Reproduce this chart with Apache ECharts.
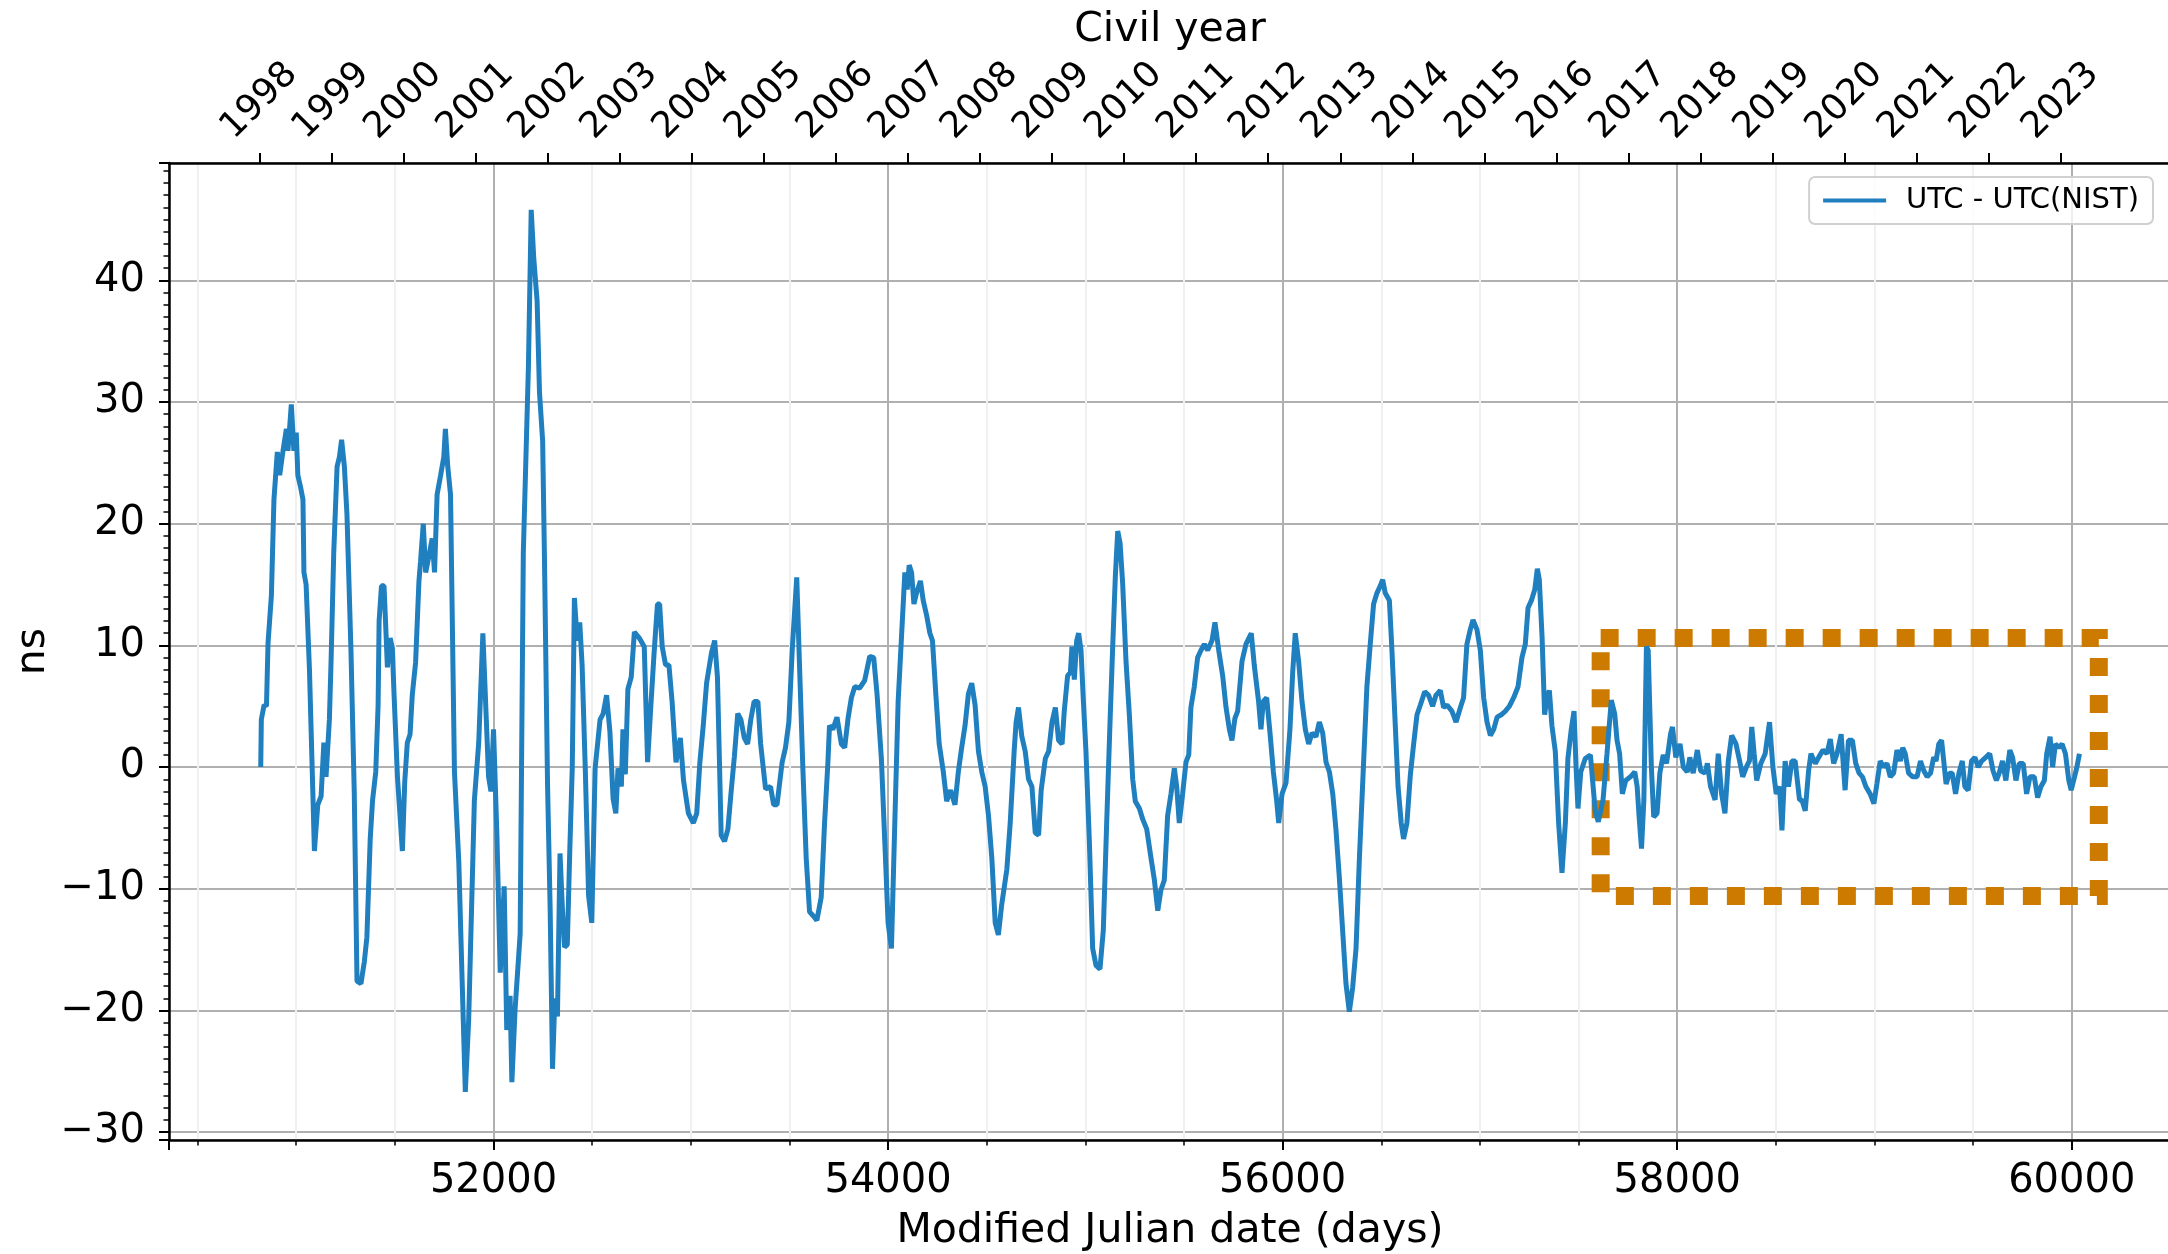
<!DOCTYPE html>
<html>
<head>
<meta charset="utf-8">
<title>UTC - UTC(NIST)</title>
<script src="https://cdn.jsdelivr.net/npm/echarts@6/dist/echarts.min.js"></script>
<style>
  html, body { margin: 0; padding: 0; background: #fff; }
  #chart { width: 2168px; height: 1254px; }
</style>
</head>
<body>
<div id="chart"></div>
<script>
// MJD (days) of each reading
var mjd = [
  50820,50823,50837,50849,50857,50874,50887,50904,50916,50933,50950,50958,50975,50988,51000,51008,51022,51034,51039,51050,
  51067,51084,51092,51109,51126,51140,51151,51168,51177,51190,51207,51219,51230,51244,51257,51277,51294,51308,51328,51345,
  51358,51375,51387,51403,51415,51420,51432,51445,51454,51462,51476,51487,51496,51513,51538,51550,51563,51577,51588,51605,
  51622,51630,51644,51656,51672,51689,51701,51714,51731,51748,51756,51768,51782,51802,51824,51841,51857,51874,51903,51925,
  51946,51975,51987,52000,52017,52034,52054,52067,52084,52093,52109,52135,52151,52177,
  52191,52204,52221,52233,52249,52258,52274,52287,52299,52311,52324,52337,52349,52360,52374,52387,52399,52410,52424,52437,
  52449,52465,52482,52498,52515,52540,52556,52573,52590,52606,52620,52631,52648,52656,52668,52681,52698,52714,52739,52764,
  52781,52797,52814,52831,52842,52855,52872,52889,52905,52925,52947,52963,52988,53013,53030,53046,53063,53080,53105,53121,
  53135,53154,53171,53188,53204,53221,53238,53254,53271,53288,53304,53321,53340,53354,53379,53404,53420,53437,
  53463,53480,53497,53514,53537,53551,53568,53585,53602,53619,53639,53661,53678,53695,53703,53720,53741,53763,53780,53797,
  53814,53831,53856,53881,53907,53927,53944,53966,53983,54000,54017,54034,54051,54068,54085,54097,54107,54119,54131,54144,
  54164,54178,54195,54212,54225,54242,54259,54280,54297,54317,54339,54356,54373,54390,54407,54424,54441,54458,54475,54492,
  54509,54526,54543,54559,54576,54602,54619,54639,54649,54661,54678,54695,54712,54729,54746,54763,54776,54797,54814,54831,
  54848,54864,54882,54893,54910,54924,
  54932,54944,54956,54966,54978,54990,55003,55020,55037,55054,55074,55091,55108,55125,55139,55152,55164,55176,55189,55206,
  55223,55240,55253,55274,55291,55311,55333,55350,55367,55383,55400,55417,55434,55451,55463,55476,55493,55510,55524,55535,
  55552,55569,55586,55603,55620,55642,55657,55676,55696,55713,55730,55743,55758,55772,55794,55814,55841,55856,55878,55890,
  55902,55919,55936,55953,55970,55980,55997,56017,56037,56051,56064,56081,56098,56115,56132,56149,56169,56186,56203,56220,
  56237,56254,56270,56287,56304,56321,56338,56355,56372,56389,56405,
  56427,56444,56461,56478,56495,56507,56520,56541,56554,56571,56585,56601,56613,56630,56647,56664,56681,56698,56720,56740,
  56760,56777,56799,56816,56833,56858,56879,56901,56917,56934,56951,56965,56985,57002,57019,57036,57053,57070,57087,57108,
  57129,57149,57171,57193,57213,57230,57244,57261,57278,57291,57301,57315,57328,57340,57352,57365,57382,57399,57416,57433,
  57446,57463,57477,57487,57497,57511,57534,57560,57585,57600,
  57607,57624,57644,57666,57683,57695,57708,57722,57739,57763,57785,57797,57807,57819,57831,57844,57853,57869,57881,57898,
  57912,57929,57946,57966,57976,57993,58014,58031,58051,58064,58081,58102,58119,58141,58153,58169,58192,58208,58225,58242,
  58259,58276,58298,58319,58332,58353,58366,58378,58390,58403,58424,58446,58468,58485,58502,58519,58531,58547,58564,58581,
  58598,58620,58632,58649,58666,58678,58700,58717,58739,58759,58776,58793,58810,58831,
  58851,58868,58888,58905,58922,58939,58956,58978,58997,59012,59029,59046,59063,59080,59097,59114,59131,59143,59156,59173,
  59194,59216,59233,59250,59267,59284,59300,59312,59326,59340,59351,59363,59380,59394,59411,59428,59445,59458,59475,59492,
  59509,59526,59543,59564,59584,59601,59618,59632,59649,59666,59686,59700,59717,59734,59754,59771,59788,59810,59827,59844,
  59861,59873,59890,59903,59917,59934,59951,59968,59985,59997,60014,60026,60039
];

// UTC - UTC(NIST) in ns at each mjd
var offsetNs = [
  0,3.9,5.1,5,10.2,14.1,22,25.9,24,26,27.8,26,29.8,26,27.5,24,23,22,16,15,
  8,-2,-6.9,-3.1,-2.4,2,-0.8,3.9,9,17.6,24.7,25.5,26.9,24.7,20.8,9.8,-2,-17.6,-17.8,-16,
  -14,-5.9,-2.7,-0.4,5.1,12,14.9,14.9,11.4,8.2,10.6,9.8,5.9,-0.8,-6.9,-1.2,2,2.7,5.9,8.6,
  15.3,16.9,20,16,17.3,18.8,16,22.4,23.9,25.5,27.8,24.7,22.4,-0.4,-7.8,-17.6,-26.7,-20.8,-2.7,2,
  11,-0.8,-2,3.1,-5.5,-16.9,-9.8,-21.6,-18.8,-25.9,-20,-13.7,17.6,33,
  45.8,41.8,38.3,30.8,26.8,17.4,-1.6,-11.6,-24.8,-19,-20.5,-7.1,-11.6,-14.8,-14.6,-6.6,-0.1,13.9,10.4,11.9,
  8.4,-0.1,-10.6,-12.8,-0.1,3.9,4.4,5.9,2.9,-2.6,-3.8,-0.1,-1.6,3.1,-0.6,6.4,7.4,11.1,10.6,9.9,
  0.4,4.9,9.4,13.4,13.4,9.9,8.4,8.4,5.4,0.4,2.4,-1.1,-3.8,-4.6,-3.8,0.4,3.4,6.9,9.4,10.4,
  7.4,-5.6,-6.1,-5.1,-2.1,0.9,4.4,3.9,2.4,1.9,3.9,5.4,5.4,1.9,-1.8,-1.6,-3.1,-3.1,
  0.4,1.6,3.7,9.6,15.6,8.4,-0.1,-7.5,-11.9,-12.2,-12.6,-10.7,-4.6,0.4,3.4,3.1,4.1,1.9,1.6,4,
  5.7,6.6,6.5,7.1,9.1,9,6,0.7,-6,-12.8,-14.9,-4.6,5.4,10.7,16,14.6,16.6,16,13.4,14.3,
  15.3,13.7,12.5,11,10.4,6,1.9,-0.4,-2.8,-1.9,-3.1,-0.4,1.6,3.4,6,6.9,5.1,1.3,-0.4,-1.6,
  -4,-7.5,-12.8,-13.8,-11.3,-8.4,-4.6,1.3,3.7,4.9,2.5,1.3,-1,-1.6,-5.4,-5.6,-1.9,0.7,1.3,3.7,
  4.9,2.2,1.9,4.6,7.5,7.8,
  9.9,7.2,10.4,11,9.6,5.4,1.3,-6,-14.9,-16.3,-16.6,-13.4,-4.6,3.7,10.1,15.7,19.4,18.4,15.1,8.7,
  4.3,-1,-2.8,-3.4,-4.3,-5.1,-7.5,-9.3,-11.8,-10.1,-9.3,-4,-2.2,-0.1,-1.6,-4.6,-2.2,0.4,1,4.9,
  6.6,9,9.6,10.1,9.6,10.4,11.9,9.6,7.5,4.9,3.1,2.2,4,4.6,8.7,10.1,11,8.4,5.4,3.1,
  5.4,5.7,2.8,-0.4,-2.8,-4.6,-2.2,-1.3,3.1,7.8,11,8.7,5.4,3.1,1.9,2.8,2.5,3.7,2.8,0.4,
  -0.4,-2.2,-5.1,-9,-13.4,-17.8,-20.1,-18.1,-14.9,-7.5,-1.6,
  6.6,10.1,13.4,14.3,14.9,15.4,14.3,13.7,9.6,3.4,-1.6,-4.6,-5.9,-4.6,-0.7,1.9,4.3,5.1,6.2,5.9,
  5,5.9,6.3,4.9,5.1,4.6,3.7,4.9,5.7,10.1,11.3,12.1,11.3,9.6,5.7,3.7,2.6,3.1,4.1,4.3,
  4.6,5,5.7,6.6,9,10.1,13.1,13.7,14.6,16.3,15.4,10.7,4.3,5.7,6.3,3.4,1.3,-4.6,-8.7,-4.6,
  0.7,3.1,4.6,0.1,-3.4,-0.4,0.7,1,-3.7,-4.5,
  -4.4,-2.7,1.1,5.5,4.4,2.2,1.1,-2.2,-1.1,-0.8,-0.4,-1.6,-4.1,-6.7,-2.7,9.9,9.6,0,-4.1,-3.8,
  -0.5,1,0.3,2.7,3.3,0.8,1.9,0,-0.4,0.8,-0.5,1.4,-0.3,-0.5,0.3,-1.6,-2.7,1.1,-2.2,-3.8,
  0.5,2.6,1.9,0.3,-0.8,0.1,0.5,3.3,1.1,-1.1,0.3,1.1,3.7,0,-2.2,-1.6,-5.2,0.5,-1.6,0.5,
  0.5,-2.7,-2.7,-3.6,-0.3,1.1,0.3,0.8,1.4,1.1,2.3,0.3,1.1,2.7,
  -1.9,2.2,2.2,0.3,-0.5,-0.8,-1.6,-2.2,-3,-1.4,0.5,0,0.3,-0.8,-0.5,1.4,0.5,1.6,1.1,-0.5,
  -0.8,-0.8,0.5,-0.3,-0.8,-0.5,0.8,0.5,1.9,2.2,0.5,-1.4,-0.5,-0.5,-2.2,-0.5,0.5,-1.6,-1.9,0.5,
  0.8,0,0.5,0.8,1.1,-0.3,-1.1,-0.5,0.5,-1.1,1.4,0.8,-1.1,0.3,0.3,-2.2,-0.8,-0.8,-2.5,-1.6,
  -1.1,1.1,2.5,0,1.9,1.6,1.9,1.1,-1.1,-1.9,-0.8,0,1.1
];

// civil year ticks on the top axis (MJD of 1 January)
var yearMjd = [50814,51179,51544,51910,52275,52640,53005,53371,53736,54101,54466,54832,55197,
               55562,55927,56293,56658,57023,57388,57754,58119,58484,58849,59215,59580,59945];
var yearLabels = ['1998','1999','2000','2001','2002','2003','2004','2005','2006','2007','2008','2009','2010',
                  '2011','2012','2013','2014','2015','2016','2017','2018','2019','2020','2021','2022','2023'];

// highlighted region (dotted box)
var boxMjd = [57612, 60137];
var boxNs = [10.6, -10.6];

var xMin = 50355, xMax = 60503;
var yMin = -30.65, yMax = 49.65;

var seriesData = [];
for (var i = 0; i < mjd.length; i++) {
  seriesData.push([mjd[i], offsetNs[i]]);
}

var font = 'DejaVu Sans';
var gridColor = '#b0b0b0';
var lineColor = '#1f7fbf';

var myChart = echarts.init(document.getElementById('chart'));
var option = {
  backgroundColor: '#ffffff',
  animation: false,
  textStyle: { fontFamily: font },
  grid: {
    left: 169, right: -3, top: 163, bottom: 114,
    containLabel: false,
    outerBoundsMode: 'none'
  },
  legend: {
    data: [{ name: 'UTC - UTC(NIST)', icon: 'rect' }],
    right: 15, top: 177,
    orient: 'horizontal',
    padding: [9, 14, 9, 14],
    itemWidth: 63, itemHeight: 4,
    itemStyle: { color: lineColor },
    backgroundColor: 'rgba(255,255,255,0.8)',
    borderColor: '#d0d0d0', borderWidth: 2, borderRadius: 6,
    textStyle: { fontFamily: font, fontSize: 29, color: '#000', padding: [0, 0, 0, 15] }
  },
  xAxis: [
    {
      type: 'value',
      position: 'bottom',
      min: xMin, max: xMax,
      splitNumber: 5,
      name: 'Modified Julian date (days)',
      nameLocation: 'middle',
      nameGap: 71,
      nameMoveOverlap: false,
      nameTextStyle: { fontFamily: font, fontSize: 41, color: '#000' },
      axisLine: { show: true, onZero: false, lineStyle: { color: '#000', width: 2.5 } },
      axisTick: { show: true, length: 10, lineStyle: { color: '#000', width: 2 } },
      minorTick: { show: true, splitNumber: 4, length: 5.5, lineStyle: { color: '#000', width: 1.5 } },
      axisLabel: {
        show: true, fontFamily: font, fontSize: 40, color: '#000', margin: 22,
        showMinLabel: false, showMaxLabel: false,
        formatter: function (v) { return String(v); }
      },
      splitLine: { show: true, lineStyle: { color: gridColor, width: 2 } },
      minorSplitLine: { show: true, lineStyle: { color: '#f0f0f0', width: 2 } }
    },
    {
      type: 'value',
      position: 'top',
      min: xMin, max: xMax,
      name: 'Civil year',
      nameLocation: 'middle',
      nameGap: 112,
      nameMoveOverlap: false,
      nameTextStyle: { fontFamily: font, fontSize: 41, color: '#000' },
      axisLine: { show: true, onZero: false, lineStyle: { color: '#000', width: 2.5 } },
      axisTick: { show: true, length: 10, customValues: yearMjd, lineStyle: { color: '#000', width: 2 } },
      axisLabel: {
        show: true,
        customValues: yearMjd,
        rotate: -45,
        align: 'center',
        verticalAlign: 'middle',
        margin: 62,
        fontFamily: font, fontSize: 36, color: '#000',
        formatter: function (v) {
          var k = 0, best = Infinity;
          for (var j = 0; j < yearMjd.length; j++) {
            var d = Math.abs(yearMjd[j] - v);
            if (d < best) { best = d; k = j; }
          }
          return yearLabels[k];
        }
      },
      splitLine: { show: false },
      minorTick: { show: false },
      minorSplitLine: { show: false }
    }
  ],
  yAxis: {
    type: 'value',
    min: yMin, max: yMax,
    splitNumber: 8,
    name: 'ns',
    nameLocation: 'middle',
    nameGap: 115,
    nameMoveOverlap: false,
    nameTextStyle: { fontFamily: font, fontSize: 41, color: '#000' },
    axisLine: { show: true, onZero: false, lineStyle: { color: '#000', width: 2.5 } },
    axisTick: { show: true, length: 10, lineStyle: { color: '#000', width: 2 } },
    minorTick: { show: true, splitNumber: 10, length: 5.5, lineStyle: { color: '#000', width: 1.5 } },
    axisLabel: {
      show: true, fontFamily: font, fontSize: 40, color: '#000', margin: 24,
      showMinLabel: false, showMaxLabel: false,
      formatter: function (v) { return v < 0 ? '\u2212' + Math.abs(v) : String(v); }
    },
    splitLine: { show: true, lineStyle: { color: gridColor, width: 2 } },
    minorSplitLine: { show: false }
  },
  series: [
    {
      name: 'UTC - UTC(NIST)',
      type: 'line',
      xAxisIndex: 0,
      data: seriesData,
      symbol: 'none',
      showSymbol: false,
      color: lineColor,
      lineStyle: { color: lineColor, width: 5 },
      z: 3,
      markArea: {
        silent: true,
        itemStyle: {
          color: 'rgba(0,0,0,0)',
          borderColor: '#cc7a00',
          borderWidth: 18,
          borderType: [18, 19]
        },
        data: [[
          { coord: [boxMjd[0], boxNs[0]] },
          { coord: [boxMjd[1], boxNs[1]] }
        ]]
      }
    }
  ]
};
myChart.setOption(option);
</script>
</body>
</html>
